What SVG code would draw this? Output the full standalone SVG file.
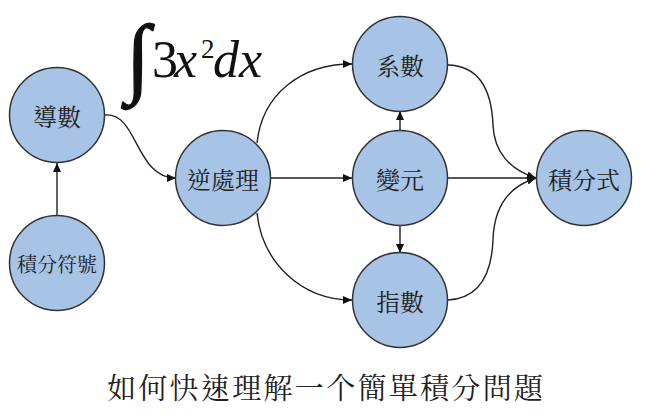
<svg xmlns="http://www.w3.org/2000/svg" width="650" height="420" viewBox="0 0 650 420">
<style>
.node circle{fill:#a7c3e5;stroke:#333;stroke-width:1.5}
.node text{font-family:"Noto Serif CJK TC","Noto Sans CJK TC",serif;font-size:24px;fill:#222;text-anchor:middle;dominant-baseline:central}
.edge{fill:none;stroke:#222;stroke-width:1.4}
.cap{font-family:"Noto Serif CJK TC","Noto Sans CJK TC",serif;font-size:29px;fill:#222}
.math{font-family:"Liberation Serif","DejaVu Serif",serif}
</style>
<defs>
<marker id="ah" markerUnits="userSpaceOnUse" markerWidth="9" markerHeight="8" refX="9" refY="4" orient="auto">
<path d="M0,0 L9,4 L0,8 z" fill="#111"/>
</marker>
</defs>
<rect width="650" height="420" fill="#fff"/>
<g id="formula" fill="#111">
<text class="math" font-size="52"><tspan x="126" y="86" font-size="88" stroke="#111" stroke-width="1.2">∫</tspan><tspan x="152" y="77">3</tspan><tspan x="174" y="77" font-style="italic">x</tspan><tspan x="201" y="58" font-size="27">2</tspan><tspan x="213" y="77" font-style="italic">dx</tspan></text>
</g>
<g id="connectors">
<path class="edge" d="M57,216 L57,163" marker-end="url(#ah)"/>
<path class="edge" d="M105,115 C138,112 135,178 176,178" marker-end="url(#ah)"/>
<path class="edge" d="M257,143 C262,95 300,64 352,64" marker-end="url(#ah)"/>
<path class="edge" d="M270,178 L352,178" marker-end="url(#ah)"/>
<path class="edge" d="M257,213 C262,261 300,300 352,300" marker-end="url(#ah)"/>
<path class="edge" d="M400,131 L400,111" marker-end="url(#ah)"/>
<path class="edge" d="M400,225 L400,253" marker-end="url(#ah)"/>
<path class="edge" d="M448,178 L536,178" marker-end="url(#ah)"/>
<path class="edge" d="M448,65 C485,66 492,100 493,125 C494,152 510,170 536,178" marker-end="url(#ah)"/>
<path class="edge" d="M448,300 C485,298 492,265 493,240 C494,205 510,186 536,178" marker-end="url(#ah)"/>
</g>
<g id="n-daoshu" class="node"><circle cx="57" cy="115" r="47.5"/><text x="57" y="115">導數</text></g>
<g id="n-fuhao" class="node"><circle cx="57" cy="263" r="47.5"/><text x="57" y="263" style="font-size:20px">積分符號</text></g>
<g id="n-nichuli" class="node"><circle cx="223" cy="178" r="47.5"/><text x="223" y="178">逆處理</text></g>
<g id="n-xishu" class="node"><circle cx="400" cy="64" r="47.5"/><text x="400" y="64">系數</text></g>
<g id="n-bianyuan" class="node"><circle cx="400" cy="178" r="47.5"/><text x="400" y="178">變元</text></g>
<g id="n-zhishu" class="node"><circle cx="400" cy="300" r="47.5"/><text x="400" y="300">指數</text></g>
<g id="n-jifenshi" class="node"><circle cx="584" cy="178" r="47.5"/><text x="584" y="178">積分式</text></g>
<text class="cap" x="107" y="399" textLength="436" lengthAdjust="spacing">如何快速理解一个簡單積分問題</text>
</svg>
